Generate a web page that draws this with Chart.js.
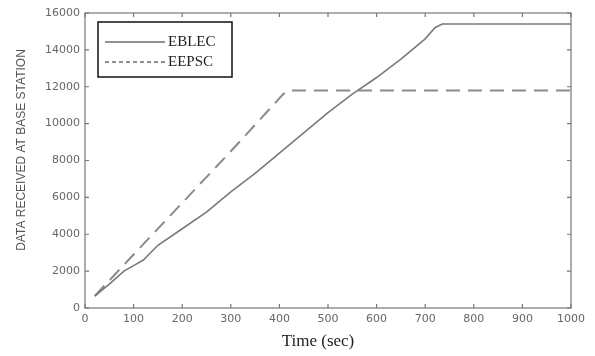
<!DOCTYPE html>
<html>
<head>
<meta charset="utf-8">
<script src="https://cdn.jsdelivr.net/npm/chart.js@4/dist/chart.umd.min.js"></script>
<style>
  html, body { margin: 0; padding: 0; background: #fff; }
  #wrap { width: 595px; height: 356px; }
</style>
</head>
<body>
<div id="wrap"><canvas id="myChart" width="595" height="356"></canvas></div>
<script>
// values
var eblecTime = [20, 50, 80, 100, 120, 150, 200, 250, 300, 350, 400, 450, 500, 550, 600, 650, 700, 720, 735, 1000];
var eblecData = [650, 1300, 2000, 2300, 2600, 3400, 4300, 5200, 6300, 7300, 8400, 9500, 10600, 11600, 12500, 13500, 14600, 15200, 15400, 15400];
var eepscTime = [20, 100, 200, 300, 408, 420, 1000];
var eepscData = [650, 2900, 5700, 8500, 11600, 11800, 11800];
var xTitle = 'Time (sec)';
var yTitle = 'DATA RECEIVED AT BASE STATION';

function toPoints(xs, ys) {
  return xs.map(function (x, i) { return { x: x, y: ys[i] }; });
}

// matlab style box with inward ticks, boxed legend and axis titles
var framePlugin = {
  id: 'frame',
  afterDatasetsDraw: function (chart) {
    var c = chart.ctx, a = chart.chartArea;
    var sx = chart.scales.x, sy = chart.scales.y;
    c.save();
    c.strokeStyle = '#777';
    c.lineWidth = 1.2;
    c.strokeRect(a.left, a.top, a.right - a.left, a.bottom - a.top);
    c.beginPath();
    sx.ticks.forEach(function (t) {
      var px = sx.getPixelForValue(t.value);
      c.moveTo(px, a.bottom); c.lineTo(px, a.bottom - 4);
      c.moveTo(px, a.top); c.lineTo(px, a.top + 4);
    });
    sy.ticks.forEach(function (t) {
      var py = sy.getPixelForValue(t.value);
      c.moveTo(a.left, py); c.lineTo(a.left + 4, py);
      c.moveTo(a.right, py); c.lineTo(a.right - 4, py);
    });
    c.stroke();
    c.restore();
  },
  afterDraw: function (chart) {
    var c = chart.ctx, a = chart.chartArea;
    var x0 = a.left + 13, y0 = a.top + 9;
    c.save();
    c.fillStyle = '#fff';
    c.fillRect(x0, y0, 134, 55);
    c.strokeStyle = '#111';
    c.lineWidth = 1.5;
    c.strokeRect(x0, y0, 134, 55);
    c.font = '15px "Liberation Serif", "Times New Roman", serif';
    c.textBaseline = 'middle';
    var dashes = [[], [4, 3]];
    chart.data.datasets.forEach(function (ds, i) {
      var y = y0 + 20 + i * 20;
      c.strokeStyle = '#222';
      c.lineWidth = 1.2;
      c.setLineDash(dashes[i]);
      c.beginPath();
      c.moveTo(x0 + 7, y); c.lineTo(x0 + 67, y);
      c.stroke();
      c.setLineDash([]);
      c.fillStyle = '#222';
      c.fillText(ds.label, x0 + 70, y);
    });

    // axis titles
    c.fillStyle = '#222';
    c.textAlign = 'center';
    c.font = '17px "Liberation Serif", "Times New Roman", serif';
    c.fillText(xTitle, 318, 342);
    c.translate(22, 150);
    c.rotate(-Math.PI / 2);
    c.fillStyle = '#555';
    c.font = '12px "Liberation Sans", Arial, sans-serif';
    c.fillText(yTitle, 0, 0);
    c.restore();
  }
};

var tickFont = { family: 'DejaVu Sans', size: 11 };

var ctx = document.getElementById('myChart').getContext('2d');
var myChart = new Chart(ctx, {
  type: 'line',
  data: {
    datasets: [{
      label: 'EBLEC',
      data: toPoints(eblecTime, eblecData),
      borderColor: '#7a7a7a',
      borderWidth: 1.6,
      pointRadius: 0,
      tension: 0,
      fill: false
    }, {
      label: 'EEPSC',
      data: toPoints(eepscTime, eepscData),
      borderColor: '#8a8a8a',
      borderWidth: 2,
      borderDash: [14, 8],
      pointRadius: 0,
      tension: 0,
      fill: false
    }]
  },
  options: {
    responsive: false,
    animation: false,
    layout: { padding: { top: 13, right: 24, left: 0, bottom: 0 } },
    plugins: {
      legend: { display: false },
      tooltip: { enabled: false }
    },
    scales: {
      x: {
        type: 'linear',
        min: 0,
        max: 1000,
        ticks: {
          stepSize: 100,
          padding: 5,
          color: '#666',
          font: tickFont,
          maxRotation: 0,
          callback: function (v) { return String(v); }
        },
        grid: { display: false, drawTicks: false },
        border: { display: false },
        afterFit: function (scale) { scale.height = 48; }
      },
      y: {
        min: 0,
        max: 16000,
        ticks: {
          stepSize: 2000,
          padding: 5,
          color: '#666',
          font: tickFont,
          callback: function (v) { return String(v); }
        },
        grid: { display: false, drawTicks: false },
        border: { display: false },
        afterFit: function (scale) { scale.width = 85; }
      }
    }
  },
  plugins: [framePlugin]
});
</script>
</body>
</html>
